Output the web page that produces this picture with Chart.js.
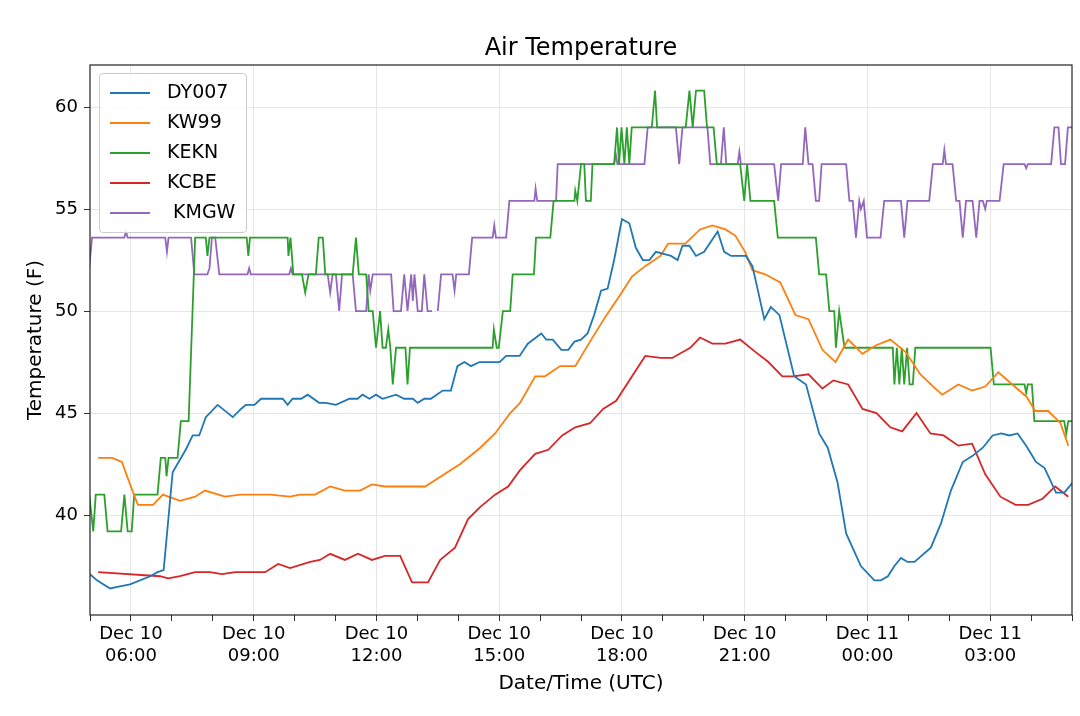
<!DOCTYPE html>
<html><head><meta charset="utf-8">
<script src="https://cdn.jsdelivr.net/npm/chart.js@4"></script>
<style>
body{margin:0;background:#fff;font-family:"DejaVu Sans",sans-serif}
#wrap{position:relative;width:1080px;height:716px}
#title{position:absolute;left:90px;width:982px;top:33px;text-align:center;font-size:24px;color:#000}
#legend{position:absolute;left:99px;top:73px;width:146px;height:158px;border:1px solid #ccc;border-radius:4px;background:rgba(255,255,255,0.85)}
.it{position:absolute;left:10px;height:30px;font-size:19px;color:#000}
.it span{display:inline-block;width:40px;height:0;border-top:2px solid;vertical-align:middle;margin-right:17px}
</style></head><body>
<div id="wrap"><canvas id="c" width="1080" height="716"></canvas>
<div id="title">Air Temperature</div>
<div id="legend"></div></div>
<script>
const seriesNames=["DY007","KW99","KEKN","KCBE"," KMGW"];
const seriesColors=["#1f77b4","#ff7f0e","#2ca02c","#d62728","#9467bd"];
const tickHours=[6,9,12,15,18,21,24,27];
// [hour since Dec 10 00:00 UTC, temperature F]
const DY007=[[5.0,37.1],[5.17,36.8],[5.49,36.4],[5.73,36.5],[5.98,36.6],[6.47,37.0],[6.65,37.2],[6.8,37.3],[7.02,42.1],[7.34,43.2],[7.51,43.9],[7.67,43.9],[7.83,44.8],[8.12,45.4],[8.49,44.8],[8.69,45.2],[8.81,45.4],[9.02,45.4],[9.18,45.7],[9.71,45.7],[9.83,45.4],[9.95,45.7],[10.16,45.7],[10.32,45.9],[10.60,45.5],[10.77,45.5],[11.01,45.4],[11.34,45.7],[11.54,45.7],[11.66,45.9],[11.83,45.7],[11.99,45.9],[12.15,45.7],[12.48,45.9],[12.68,45.7],[12.89,45.7],[13.01,45.5],[13.17,45.7],[13.33,45.7],[13.62,46.1],[13.82,46.1],[13.98,47.3],[14.15,47.5],[14.31,47.3],[14.52,47.5],[15.01,47.5],[15.17,47.8],[15.50,47.8],[15.70,48.4],[16.03,48.9],[16.15,48.6],[16.31,48.6],[16.52,48.1],[16.69,48.1],[16.84,48.5],[17.0,48.6],[17.16,48.9],[17.32,49.8],[17.49,51.0],[17.65,51.1],[17.81,52.5],[18.0,54.5],[18.18,54.3],[18.34,53.1],[18.51,52.5],[18.67,52.5],[18.83,52.9],[19.20,52.7],[19.36,52.5],[19.48,53.2],[19.65,53.2],[19.81,52.7],[20.01,52.9],[20.34,53.9],[20.50,52.9],[20.67,52.7],[21.03,52.7],[21.19,52.2],[21.48,49.6],[21.64,50.2],[21.85,49.8],[22.21,46.8],[22.50,46.4],[22.82,44.0],[23.03,43.3],[23.27,41.6],[23.48,39.1],[23.84,37.5],[24.17,36.8],[24.33,36.8],[24.50,37.0],[24.66,37.5],[24.82,37.9],[24.98,37.7],[25.15,37.7],[25.55,38.4],[25.80,39.6],[26.04,41.2],[26.33,42.6],[26.57,42.9],[26.82,43.3],[27.06,43.9],[27.27,44.0],[27.47,43.9],[27.67,44.0],[27.88,43.4],[28.12,42.6],[28.33,42.3],[28.61,41.1],[28.81,41.1],[29.02,41.6]];
const KW99=[[5.20,42.8],[5.54,42.8],[5.78,42.6],[5.98,41.5],[6.17,40.5],[6.54,40.5],[6.78,41.0],[7.20,40.7],[7.57,40.9],[7.81,41.2],[8.30,40.9],[8.67,41.0],[9.40,41.0],[9.89,40.9],[10.13,41.0],[10.50,41.0],[10.87,41.4],[11.23,41.2],[11.60,41.2],[11.89,41.5],[12.21,41.4],[13.19,41.4],[14.05,42.5],[14.54,43.3],[14.90,44.0],[15.27,45.0],[15.51,45.5],[15.88,46.8],[16.12,46.8],[16.49,47.3],[16.86,47.3],[17.22,48.5],[17.59,49.7],[17.96,50.8],[18.25,51.7],[18.57,52.2],[18.94,52.7],[19.13,53.3],[19.55,53.3],[19.91,54.0],[20.21,54.2],[20.53,54.0],[20.77,53.7],[21.01,52.9],[21.19,52.0],[21.50,51.8],[21.87,51.4],[22.24,49.8],[22.56,49.6],[22.90,48.1],[23.22,47.5],[23.53,48.6],[23.88,47.9],[24.19,48.3],[24.56,48.6],[24.93,48.0],[25.29,46.9],[25.66,46.2],[25.83,45.9],[26.22,46.4],[26.56,46.1],[26.88,46.3],[27.20,47.0],[27.54,46.4],[27.89,45.8],[28.10,45.1],[28.42,45.1],[28.72,44.5],[28.91,43.4]];
const KEKN=[[4.98,41],[5.08,39.2],[5.14,41],[5.35,41],[5.43,39.2],[5.76,39.2],[5.84,41],[5.92,39.2],[6.02,39.2],[6.08,41],[6.65,41],[6.73,42.8],[6.84,42.8],[6.87,41.9],[6.92,42.8],[7.14,42.8],[7.22,44.6],[7.41,44.6],[7.57,53.6],[7.83,53.6],[7.87,52.7],[7.92,53.6],[8.83,53.6],[8.87,52.7],[8.91,53.6],[9.83,53.6],[9.85,52.7],[9.90,53.6],[9.97,51.8],[10.18,51.8],[10.26,50.9],[10.34,51.8],[10.52,51.8],[10.59,53.6],[10.69,53.6],[10.75,51.8],[11.42,51.8],[11.50,53.6],[11.57,51.8],[11.75,51.8],[11.81,50],[11.91,50],[11.99,48.2],[12.09,50],[12.15,48.2],[12.23,48.2],[12.29,49.1],[12.34,48.2],[12.40,46.4],[12.48,48.2],[12.71,48.2],[12.76,46.4],[12.82,48.2],[14.84,48.2],[14.87,49.1],[14.94,48.2],[14.99,48.2],[15.09,50],[15.27,50],[15.33,51.8],[15.85,51.8],[15.90,53.6],[16.25,53.6],[16.33,55.4],[16.84,55.4],[16.86,55.9],[16.91,55.4],[17.0,57.2],[17.08,57.2],[17.12,55.4],[17.24,55.4],[17.28,57.2],[17.81,57.2],[17.88,59],[17.93,57.2],[17.99,59],[18.06,57.2],[18.12,59],[18.18,57.2],[18.24,59],[18.73,59],[18.81,60.8],[18.86,59],[19.56,59],[19.65,60.8],[19.73,59],[19.81,60.8],[20.01,60.8],[20.08,59],[20.24,59],[20.32,57.2],[20.89,57.2],[20.99,55.4],[21.06,57.2],[21.14,55.4],[21.72,55.4],[21.81,53.6],[22.74,53.6],[22.82,51.8],[22.99,51.8],[23.07,50],[23.19,50],[23.23,48.2],[23.31,50],[23.44,48.2],[24.62,48.2],[24.66,46.4],[24.72,48.2],[24.78,46.4],[24.84,48.2],[24.90,46.4],[24.97,48.2],[25.03,46.4],[25.11,46.4],[25.17,48.2],[27.01,48.2],[27.09,46.4],[27.84,46.4],[27.88,46.0],[27.92,46.4],[28.02,46.4],[28.08,44.6],[28.81,44.6],[28.86,44.0],[28.91,44.6],[29.02,44.6]];
const KCBE=[[5.20,37.2],[6.71,37.0],[6.91,36.9],[7.20,37.0],[7.57,37.2],[7.93,37.2],[8.23,37.1],[8.55,37.2],[9.28,37.2],[9.60,37.6],[9.89,37.4],[10.38,37.7],[10.62,37.8],[10.87,38.1],[11.23,37.8],[11.55,38.1],[11.89,37.8],[12.21,38.0],[12.58,38.0],[12.87,36.7],[13.26,36.7],[13.56,37.8],[13.92,38.4],[14.24,39.8],[14.54,40.4],[14.90,41.0],[15.22,41.4],[15.51,42.2],[15.88,43.0],[16.20,43.2],[16.54,43.9],[16.86,44.3],[17.22,44.5],[17.54,45.2],[17.86,45.6],[18.28,46.9],[18.57,47.8],[18.94,47.7],[19.23,47.7],[19.67,48.2],[19.91,48.7],[20.21,48.4],[20.53,48.4],[20.89,48.6],[21.26,48.0],[21.58,47.5],[21.92,46.8],[22.19,46.8],[22.56,46.9],[22.90,46.2],[23.17,46.6],[23.53,46.4],[23.88,45.2],[24.22,45.0],[24.56,44.3],[24.85,44.1],[25.20,45.0],[25.54,44.0],[25.86,43.9],[26.22,43.4],[26.56,43.5],[26.88,42.0],[27.25,40.9],[27.62,40.5],[27.93,40.5],[28.28,40.8],[28.59,41.4],[28.91,40.9]];
const KMGW=[[4.98,52.1],[5.05,53.6],[5.84,53.6],[5.88,53.9],[5.92,53.6],[6.84,53.6],[6.88,52.9],[6.92,53.6],[7.47,53.6],[7.55,51.8],[7.87,51.8],[7.92,52.1],[7.98,53.6],[8.06,53.6],[8.16,51.8],[8.85,51.8],[8.89,52.1],[8.93,51.8],[9.87,51.8],[9.91,52.1],[9.95,51.8],[10.81,51.8],[10.87,50.9],[10.93,51.8],[11.01,51.8],[11.09,50],[11.16,51.8],[11.42,51.8],[11.50,50],[11.75,50],[11.81,51.8],[11.85,51.0],[11.91,51.8],[12.36,51.8],[12.42,50],[12.60,50],[12.68,51.8],[12.76,50],[12.85,51.8],[12.89,50.5],[12.93,51.8],[13.01,50],[13.11,50],[13.17,51.8],[13.25,50],[13.36,50],[13.43,null],[13.50,50],[13.58,51.8],[13.86,51.8],[13.91,51.0],[13.95,51.8],[14.26,51.8],[14.34,53.6],[14.84,53.6],[14.88,54.2],[14.92,53.6],[15.17,53.6],[15.25,55.4],[15.86,55.4],[15.89,56.0],[15.93,55.4],[16.39,55.4],[16.43,57.2],[17.81,57.2],[17.85,57.7],[17.89,57.2],[18.55,57.2],[18.63,59],[19.32,59],[19.40,57.2],[19.48,59],[20.09,59],[20.16,57.2],[20.42,57.2],[20.49,59],[20.55,57.2],[20.83,57.2],[20.87,57.8],[20.91,57.2],[21.72,57.2],[21.82,55.4],[21.89,57.2],[22.42,57.2],[22.48,59],[22.56,57.2],[22.66,57.2],[22.74,55.4],[22.82,55.4],[22.88,57.2],[23.48,57.2],[23.56,55.4],[23.64,55.4],[23.72,53.6],[23.80,55.4],[23.84,55.0],[23.91,55.4],[23.99,53.6],[24.32,53.6],[24.41,55.4],[24.82,55.4],[24.90,53.6],[24.98,55.4],[25.51,55.4],[25.60,57.2],[25.84,57.2],[25.88,57.9],[25.92,57.2],[26.08,57.2],[26.17,55.4],[26.25,55.4],[26.33,53.6],[26.41,55.4],[26.57,55.4],[26.66,53.6],[26.74,55.4],[26.82,55.4],[26.88,55.0],[26.92,55.4],[27.23,55.4],[27.33,57.2],[27.84,57.2],[27.88,57.0],[27.92,57.2],[28.49,57.2],[28.57,59],[28.67,59],[28.73,57.2],[28.83,57.2],[28.90,59],[29.02,59]];
const allSeries=[DY007,KW99,KEKN,KCBE,KMGW];

const leg=document.getElementById('legend');
seriesNames.forEach((n,i)=>{const d=document.createElement('div');d.className='it';d.style.top=(6+i*30)+'px';
d.innerHTML='<span style="border-color:'+seriesColors[i]+'"></span>'+n.replace(' ','&nbsp;');leg.appendChild(d);});

const border={id:'border',afterDraw(c){const a=c.chartArea,x=c.ctx;x.save();x.strokeStyle='#222';x.lineWidth=1.2;x.strokeRect(a.left,a.top,a.right-a.left,a.bottom-a.top);x.restore();}};
const font={family:'DejaVu Sans',size:18};
new Chart(document.getElementById('c'),{type:'line',
data:{datasets:allSeries.map((s,i)=>({label:seriesNames[i],data:s.map(p=>({x:p[0],y:p[1]})),borderColor:seriesColors[i],borderWidth:1.8,pointRadius:0,tension:0,fill:false,spanGaps:false}))},
options:{responsive:false,animation:false,layout:{padding:{top:65,right:8,left:0,bottom:0}},
plugins:{legend:{display:false},title:{display:false},tooltip:{enabled:false}},
scales:{
x:{type:'linear',min:5,max:29,afterBuildTicks(s){s.ticks=[];for(let h=5;h<=29;h++)s.ticks.push({value:h});},
 afterFit(s){s.height=101;},
 ticks:{autoSkip:false,maxRotation:0,color:'#000',font,padding:3,callback(v){if(tickHours.indexOf(v)<0)return '';const d=v>=24?'Dec 11':'Dec 10';const h=v%24;return [d,(h<10?'0':'')+h+':00'];}},
 grid:{color(ctx){return tickHours.indexOf(ctx.tick&&ctx.tick.value)>=0?'#e6e6e6':'rgba(0,0,0,0)';},tickColor:'#333',tickLength:6,drawOnChartArea:true},
 border:{display:false},
 title:{display:true,text:'Date/Time (UTC)',color:'#000',font:{family:'DejaVu Sans',size:20},padding:{top:0,bottom:20}}},
y:{min:35.1,max:62.06,afterBuildTicks(s){s.ticks=[40,45,50,55,60].map(v=>({value:v}));},
 afterFit(s){s.width=90;},
 ticks:{color:'#000',font,padding:6},
 grid:{color:'#e6e6e6',tickColor:'#333',tickLength:6},
 border:{display:false},
 title:{display:true,text:'Temperature (F)',color:'#000',font:{family:'DejaVu Sans',size:20},padding:{top:24,bottom:4}}}}},
plugins:[border]});
</script></body></html>
